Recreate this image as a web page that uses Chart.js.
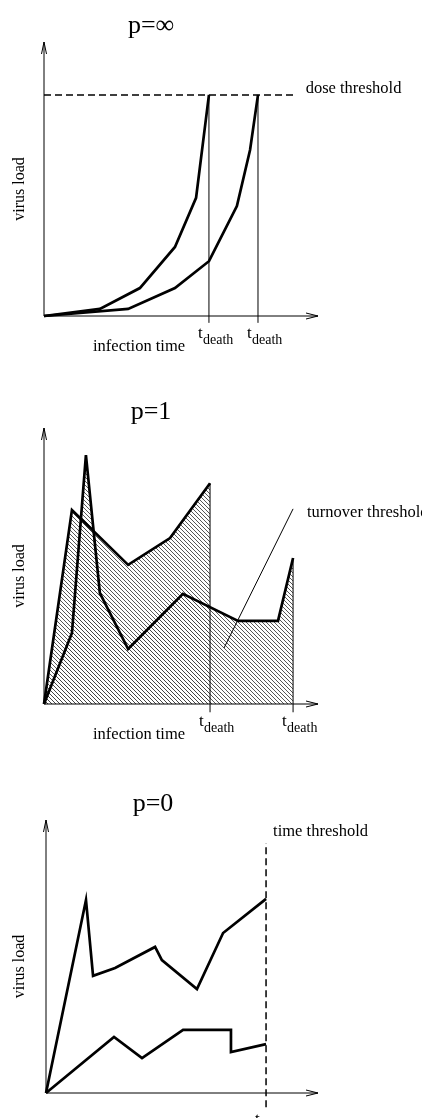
<!DOCTYPE html>
<html>
<head>
<meta charset="utf-8">
<script src="https://cdn.jsdelivr.net/npm/chart.js@4.4.1/dist/chart.umd.min.js"></script>
<style>
body { margin: 0; width: 422px; height: 1118px; overflow: hidden; background: #fff; position: relative; }
canvas { position: absolute; left: 0; }
</style>
</head>
<body>
<canvas id="c1" width="422" height="372" style="top:0px"></canvas>
<canvas id="c2" width="422" height="390" style="top:372px"></canvas>
<canvas id="c3" width="422" height="356" style="top:762px"></canvas>
<script>
// p = infinity : two runs climbing to the dose threshold
let infTimeA = [0, 2.04, 3.5, 4.78, 5.55, 6.02];
let infLoadA = [0, 0.26, 1.02, 2.52, 4.31, 8.07];
let infTimeB = [0, 3.07, 4.78, 6.02, 7.04, 7.52, 7.81];
let infLoadB = [0, 0.26, 1.02, 2.0, 4.01, 6.06, 8.07];
let doseThreshold = 8.07;
let infDeaths = [6.02, 7.81];

// p = 1 : area under the curve reaches the turnover threshold
let oneTimeA = [0, 1.02, 3.07, 4.6, 6.06];
let oneLoadA = [0, 7.03, 5.04, 6.01, 8.0];
let oneTimeB = [0, 1.02, 1.53, 2.04, 3.07, 5.07, 7.08, 8.54, 9.09];
let oneLoadB = [0, 2.57, 9.02, 4.02, 1.99, 3.99, 3.01, 3.01, 5.29];
let oneDeaths = [6.06, 9.09];

// p = 0 : both runs stop at the time threshold
let zeroTimeA = [0, 1.47, 1.73, 2.54, 4.01, 4.26, 5.55, 6.51, 8.09];
let zeroLoadA = [0, 7.07, 4.29, 4.58, 5.35, 4.87, 3.81, 5.86, 7.11];
let zeroTimeB = [0, 2.5, 3.53, 5.04, 6.8, 6.8, 8.09];
let zeroLoadB = [0, 2.05, 1.28, 2.31, 2.31, 1.5, 1.79];
let timeThreshold = 8.09;

const serif = "'Liberation Serif', 'DejaVu Serif', serif";

// diagonal hatching for the p=1 areas (8px tile, two "\" strokes)
let tile = document.createElement('canvas');
tile.width = 8; tile.height = 8;
let tc = tile.getContext('2d');
tc.strokeStyle = '#444';
tc.lineWidth = 0.9;
tc.beginPath();
for (let k = -8; k <= 8; k += 4) {
  tc.moveTo(k - 1, -1); tc.lineTo(k + 9, 9);
}
tc.stroke();
let hatch = document.getElementById('c2').getContext('2d').createPattern(tile, 'repeat');

function pts(ts, vs) {
  return ts.map((t, i) => ({ x: t, y: vs[i] }));
}

function curve(ts, vs, filled) {
  return {
    data: pts(ts, vs),
    borderColor: '#000',
    borderWidth: 2.7,
    borderJoinStyle: 'miter',
    pointRadius: 0,
    tension: 0,
    fill: filled ? 'origin' : false,
    backgroundColor: filled ? hatch : 'transparent',
    clip: 6
  };
}

function thin(ts, vs, dash) {
  return {
    data: pts(ts, vs),
    borderColor: '#000',
    backgroundColor: 'transparent',
    borderWidth: dash ? 1.5 : 1,
    borderDash: dash || [],
    pointRadius: 0,
    tension: 0,
    fill: false,
    clip: 20
  };
}

const sketch = {
  id: 'sketch',
  afterDraw(chart, args, o) {
    const { ctx, chartArea: a, scales: { x, y } } = chart;
    const drop = o.drop || 0;
    ctx.save();
    ctx.strokeStyle = '#000';
    ctx.lineWidth = 1;
    ctx.beginPath();
    ctx.moveTo(a.left, a.bottom); ctx.lineTo(a.left, a.top);
    ctx.moveTo(a.left, a.bottom); ctx.lineTo(a.right, a.bottom);
    ctx.moveTo(a.left - 2.5, a.top + 12); ctx.lineTo(a.left, a.top); ctx.lineTo(a.left + 2.5, a.top + 12);
    ctx.moveTo(a.right - 12, a.bottom - 3); ctx.lineTo(a.right, a.bottom); ctx.lineTo(a.right - 12, a.bottom + 3);
    ctx.stroke();

    ctx.fillStyle = '#000';
    ctx.textBaseline = 'alphabetic';
    ctx.font = '26px ' + serif;
    ctx.textAlign = 'center';
    ctx.fillText(o.title, a.left + 107, a.top - 9);

    ctx.font = '16px ' + serif;
    ctx.save();
    ctx.translate(24, (a.top + a.bottom) / 2 + 10);
    ctx.rotate(-Math.PI / 2);
    ctx.fillText('virus load', 0, 0);
    ctx.restore();

    ctx.textAlign = 'left';
    ctx.font = '16.5px ' + serif;
    ctx.fillText('infection time', 93, a.bottom + 35 + drop);

    (o.deaths || []).forEach(t => {
      let px = x.getPixelForValue(t);
      ctx.font = '17px ' + serif;
      ctx.fillText('t', px - 11, a.bottom + 22 + drop);
      ctx.font = '14px ' + serif;
      ctx.fillText('death', px - 6, a.bottom + 28 + drop);
    });

    ctx.font = '16.5px ' + serif;
    (o.notes || []).forEach(n => {
      ctx.fillText(n.text, x.getPixelForValue(n.x), y.getPixelForValue(n.y) + 5);
    });
    ctx.restore();
  }
};

function panel(id, pad, datasets, opts) {
  return new Chart(document.getElementById(id), {
    type: 'line',
    data: { datasets: datasets },
    options: {
      responsive: false,
      animation: false,
      events: [],
      layout: { padding: pad },
      scales: {
        x: { type: 'linear', min: 0, max: 10, display: false },
        y: { type: 'linear', min: 0, max: 10, display: false }
      },
      plugins: {
        legend: { display: false },
        tooltip: { enabled: false },
        filler: { drawTime: 'beforeDatasetsDraw' },
        sketch: opts
      }
    },
    plugins: [sketch]
  });
}

panel('c1', { left: 44, right: 104, top: 42, bottom: 56 }, [
  thin([0, 9.09], [doseThreshold, doseThreshold], [7, 4]),
  thin([infDeaths[0], infDeaths[0]], [-0.25, doseThreshold]),
  thin([infDeaths[1], infDeaths[1]], [-0.25, doseThreshold]),
  curve(infTimeA, infLoadA, false),
  curve(infTimeB, infLoadB, false)
], {
  title: 'p=∞',
  deaths: infDeaths,
  notes: [{ text: 'dose threshold', x: 9.55, y: doseThreshold + 0.25 }]
});

panel('c2', { left: 44, right: 104, top: 56, bottom: 58 }, [
  curve(oneTimeA, oneLoadA, true),
  curve(oneTimeB, oneLoadB, true),
  thin([oneDeaths[0], oneDeaths[0]], [-0.3, oneLoadA[oneLoadA.length - 1]]),
  thin([oneDeaths[1], oneDeaths[1]], [-0.3, oneLoadB[oneLoadB.length - 1]]),
  thin([9.09, 6.57], [7.07, 2.03])
], {
  title: 'p=1',
  deaths: oneDeaths,
  notes: [{ text: 'turnover threshold', x: 9.6, y: 6.95 }]
});

panel('c3', { left: 46, right: 104, top: 58, bottom: 25 }, [
  thin([timeThreshold, timeThreshold], [-0.52, 9.16], [7, 4]),
  curve(zeroTimeA, zeroLoadA, false),
  curve(zeroTimeB, zeroLoadB, false)
], {
  title: 'p=0',
  deaths: [timeThreshold],
  drop: 9,
  notes: [{ text: 'time threshold', x: 8.35, y: 9.6 }]
});
</script>
</body>
</html>
